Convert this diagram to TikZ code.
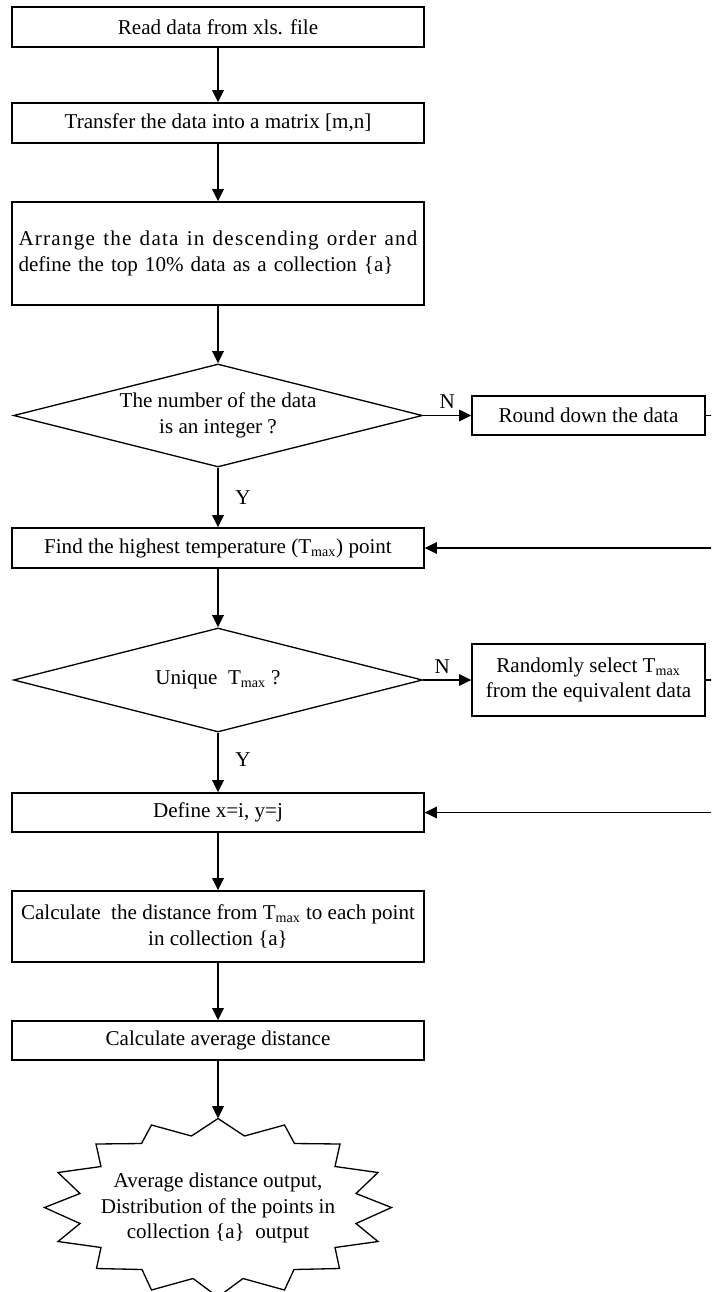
\documentclass[tikz,border=0pt]{standalone}
\usepackage{fontspec}
\setmainfont{Liberation Serif}
\usetikzlibrary{shapes.geometric,arrows.meta}
\begin{document}
\begin{tikzpicture}[x=0.02cm,y=-0.02cm,
  every node/.style={font=\fontsize{12}{14.5}\selectfont},
  box/.style={draw,line width=0.75pt,minimum width=8.24cm,inner sep=0pt,align=center},
  sbox/.style={draw,line width=0.75pt,minimum width=4.66cm,inner sep=0pt,align=center},
  dia/.style={draw,line width=0.75pt,diamond,minimum width=8.18cm,minimum height=2.06cm,inner sep=0pt},
  arr/.style={line width=1.1pt,-{Triangle[length=7pt,width=6.5pt]}},
  burst/.style={draw,line width=0.75pt}]
\fill[white] (0,0) rectangle (711,1292);
\useasboundingbox (0,0) rectangle (711,1292);
\clip (0,0) rectangle (711,1292);

\node[box,minimum height=0.8cm] (b1) at (218,27) {Read data from xls. file};
\node[box,minimum height=0.8cm] (b2) at (218,123) {Transfer the data into a matrix [m,n]};
\node[box,minimum height=2.06cm,text width=7.98cm,align=left] (b3) at (218,253.5)
  {\hbox to 7.98cm{A\hfil r\hfil r\hfil a\hfil n\hfil g\hfil e\hfil\ t\hfil h\hfil e\hfil\ d\hfil a\hfil t\hfil a\hfil\ i\hfil n\hfil\ d\hfil e\hfil s\hfil c\hfil e\hfil n\hfil d\hfil i\hfil n\hfil g\hfil\ o\hfil r\hfil d\hfil e\hfil r\hfil\ a\hfil n\hfil d}\\define the top 10\% data as a collection \{a\}};
\node[dia] (d1) at (218,415.5) {};
\node[align=center] (t1) at (d1.center) {The number of the data\\is an integer ?};
\node[box,minimum height=0.8cm] (b4) at (218,548) {Find the highest temperature (T\textsubscript{max}) point};
\node[dia,minimum height=2.08cm] (d2) at (218,680) {};
\node (t2) at (d2.center) {Unique\ \ T\textsubscript{max} ?};
\node[box,minimum height=0.78cm] (b5) at (218,812.5) {Define x=i, y=j};
\node[box,minimum height=1.42cm] (b6) at (218,926.5)
  {Calculate\ \ the distance from T\textsubscript{max} to each point\\in collection \{a\}};
\node[box,minimum height=0.78cm] (b7) at (218,1040.5) {Calculate average distance};
\node[sbox,minimum height=0.78cm] (r1) at (588.5,415.5) {Round down the data};
\node[sbox,minimum height=1.44cm] (r2) at (588.5,680) {Randomly select T\textsubscript{max}\\from the equivalent data};

\begin{scope}[shift={(218,1207.5)}]
\draw[burst] (0,-89) -- (26.5,-71.5) -- (66.5,-82.5) -- (76.5,-64) -- (122,-63.5) -- (117,-41)
  -- (160,-35) -- (138,-14) -- (173.5,0) -- (138,16) -- (160,34) -- (117,40) -- (121.5,61)
  -- (76,62) -- (66.5,82.5) -- (25,71) -- (0,89.5) -- (-25,71) -- (-66.5,82.5) -- (-76,62)
  -- (-121.5,61) -- (-117,40) -- (-160,34) -- (-138,16) -- (-173.5,0) -- (-138,-14)
  -- (-160,-35) -- (-117,-41) -- (-122,-63.5) -- (-76.5,-64) -- (-66.5,-82.5) -- (-26.5,-71.5) -- cycle;
\end{scope}
\coordinate (sbt) at (218,1118.5);
\node[align=center] (out) at (218,1208) {Average distance output,\\Distribution of the points in\\collection \{a\}\ \ output};

\coordinate (e1) at (740,415.5);
\coordinate (e2) at (740,680);

\draw[arr] (b1) -- (b2);
\draw[arr] (b2) -- (b3);
\draw[arr] (b3) -- (d1);
\draw[arr] (d1) -- node[midway,xshift=0.5cm] {Y} (b4);
\draw[arr] (d1.east) -- node[midway,above] {N} (r1.west);
\draw[arr] (r1.east) -- (e1) |- (b4.east);
\draw[arr] (b4) -- (d2);
\draw[arr] (d2) -- node[midway,xshift=0.5cm,yshift=0.06cm] {Y} (b5);
\draw[arr] (d2.east) -- node[midway,above,xshift=-0.1cm] {N} (r2.west);
\draw[arr] (r2.east) -- (e2) |- (b5.east);
\draw[arr] (b5) -- (b6);
\draw[arr] (b6) -- (b7);
\draw[arr] (b7) -- (sbt);
\end{tikzpicture}
\end{document}
